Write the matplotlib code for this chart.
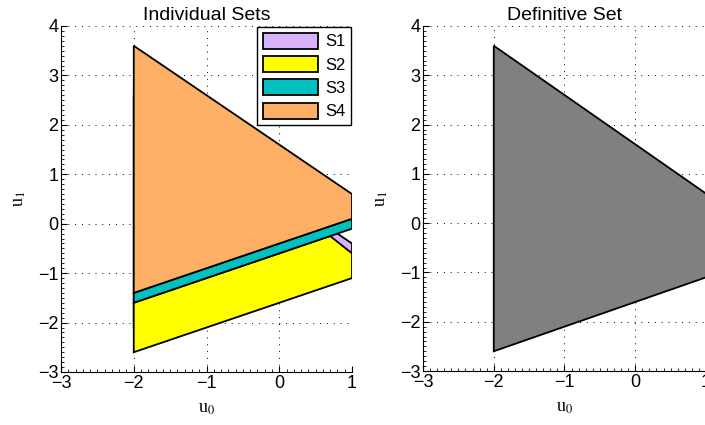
import matplotlib
matplotlib.use("Agg")
import matplotlib.pyplot as plt
from matplotlib.patches import Polygon
from matplotlib.ticker import MultipleLocator

# vertices of each set (u0, u1)
s1_u0 = [-2, 1, 1, -2]
s1_u1 = [2.6, -0.4, -0.6, -2.1]
s2_u0 = [-2, 0.7, 1, 1, -2]
s2_u1 = [-1.6, -0.25, -0.6, -1.1, -2.6]
s3_u0 = [-2, 1, 1, -2]
s3_u1 = [-1.4, 0.1, -0.1, -1.6]
s4_u0 = [-2, 1, 1, -2]
s4_u1 = [3.6, 0.6, 0.1, -1.4]
final_u0 = [-2, 1, 1, -2]
final_u1 = [3.6, 0.6, -1.1, -2.6]

set_names = ["S1", "S2", "S3", "S4"]
set_colors = ["#d8b2fb", "#ffff00", "#00c0c0", "#fdb065"]

plt.rcParams["font.family"] = ["Liberation Sans", "DejaVu Sans"]
plt.rcParams["mathtext.fontset"] = "stix"

fig = plt.figure(figsize=(7.05, 4.25), dpi=100)
ax1 = fig.add_axes([61 / 705, 53 / 425, 291 / 705, 346 / 425])
ax2 = fig.add_axes([423 / 705, 54 / 425, 283 / 705, 345 / 425])


def style(ax, title):
    ax.set_xlim(-3, 1)
    ax.set_ylim(-3, 4)
    ax.xaxis.set_major_locator(MultipleLocator(1))
    ax.yaxis.set_major_locator(MultipleLocator(1))
    ax.xaxis.set_minor_locator(MultipleLocator(0.1))
    ax.yaxis.set_minor_locator(MultipleLocator(0.1))
    ax.spines["top"].set_visible(False)
    ax.spines["right"].set_visible(False)
    ax.tick_params(which="major", direction="in", length=4, labelsize=13, pad=2)
    ax.tick_params(which="minor", direction="in", length=2)
    ax.grid(True, which="major", linestyle=(0, (1, 6)), color="black", linewidth=0.7)
    ax.set_axisbelow(True)
    ax.set_title(title, fontsize=14, pad=4)
    ax.set_xlabel("u$_0$", family="Liberation Serif", fontsize=13, labelpad=6)
    ax.set_ylabel("u$_1$", family="Liberation Serif", fontsize=13, labelpad=7)
    labels = ["\u22123", "\u22122", "\u22121", "0", "1"]
    ax.set_xticks([-3, -2, -1, 0, 1])
    ax.set_xticklabels(labels)


style(ax1, "Individual Sets")
style(ax2, "Definitive Set")

sets = [(s1_u0, s1_u1), (s2_u0, s2_u1), (s3_u0, s3_u1), (s4_u0, s4_u1)]
handles = []
for (u0, u1), name, col in zip(sets, set_names, set_colors):
    p = Polygon(list(zip(u0, u1)), closed=True, facecolor=col,
                edgecolor="black", linewidth=1.3, label=name, zorder=2)
    ax1.add_patch(p)
    handles.append(p)

ax1.legend(handles=handles, loc="upper right", borderaxespad=0.05, fontsize=12,
           frameon=True, fancybox=False, edgecolor="black", framealpha=1,
           handlelength=3.3, handleheight=1.1, labelspacing=0.4,
           handletextpad=0.4, borderpad=0.35)

ax2.add_patch(Polygon(list(zip(final_u0, final_u1)), closed=True,
                      facecolor="#808080", edgecolor="black", linewidth=1.3, zorder=2))

fig.savefig("out.png", dpi=100)
